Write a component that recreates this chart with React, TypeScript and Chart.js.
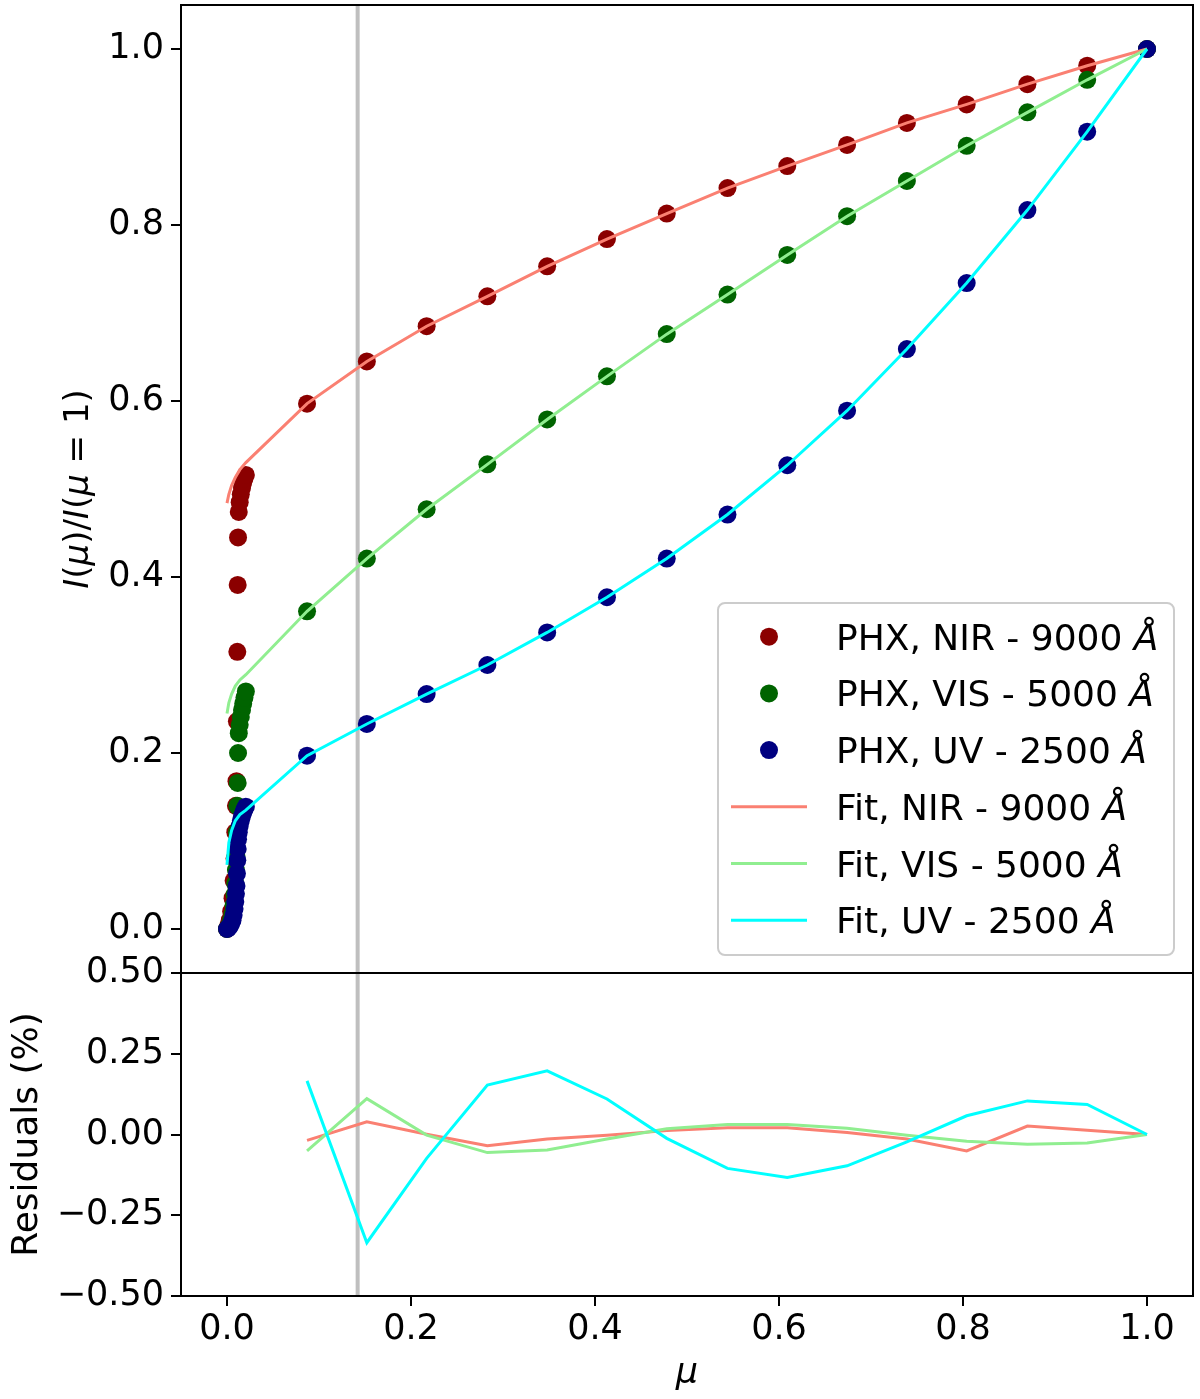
import { useEffect, useRef } from "react"
import { Chart, registerables } from "chart.js"

Chart.register(...registerables)

// limb points of the PHOENIX models (dense grid near mu = 0)
const limbMu = [
  0.0, 0.0015, 0.003, 0.0045, 0.006, 0.0072, 0.0082, 0.009, 0.0097, 0.0103, 0.0108, 0.0112, 0.0116, 0.012, 0.0128,
  0.0138, 0.015, 0.0163, 0.0176, 0.019, 0.0205,
]
const nirLimb = [
  0.0, 0.004, 0.01, 0.02, 0.035, 0.055, 0.08, 0.11, 0.14, 0.168, 0.236, 0.315, 0.391, 0.445, 0.474, 0.485, 0.494,
  0.501, 0.507, 0.512, 0.516,
]
const visLimb = [
  0.0, 0.002, 0.005, 0.01, 0.017, 0.027, 0.039, 0.052, 0.067, 0.083, 0.11, 0.14, 0.166, 0.2, 0.2225, 0.232, 0.241,
  0.249, 0.256, 0.263, 0.27,
]
const uvLimb = [
  0.0, 0.001, 0.003, 0.006, 0.01, 0.016, 0.023, 0.031, 0.04, 0.049, 0.063, 0.078, 0.091, 0.102, 0.11, 0.117, 0.123,
  0.128, 0.132, 0.136, 0.139,
]

// regular mu grid
const muGrid = [0.087, 0.152, 0.217, 0.283, 0.348, 0.413, 0.478, 0.544, 0.609, 0.674, 0.739, 0.804, 0.87, 0.935, 1.0]
const nirGrid = [0.597, 0.645, 0.685, 0.719, 0.753, 0.784, 0.813, 0.842, 0.867, 0.891, 0.916, 0.937, 0.96, 0.981, 1.0]
const visGrid = [0.361, 0.421, 0.477, 0.528, 0.579, 0.628, 0.676, 0.721, 0.766, 0.81, 0.85, 0.89, 0.928, 0.965, 1.0]
const uvGrid = [0.197, 0.233, 0.267, 0.3, 0.337, 0.377, 0.421, 0.471, 0.527, 0.589, 0.659, 0.734, 0.817, 0.906, 1.0]

// fit curves close to the limb
const fitLimbMu = [0.0, 0.002, 0.005, 0.009, 0.014, 0.0205]
const nirFitLimb = [0.484, 0.494, 0.504, 0.513, 0.522, 0.53]
const visFitLimb = [0.245, 0.257, 0.267, 0.276, 0.283, 0.289]
const uvFitLimb = [0.073, 0.098, 0.112, 0.123, 0.13, 0.135]

// residuals (%) on the regular grid
const nirRes = [-0.018, 0.039, 0.001, -0.035, -0.014, -0.002, 0.012, 0.021, 0.021, 0.006, -0.014, -0.051, 0.026, 0.013, 0.0]
const visRes = [-0.051, 0.111, -0.002, -0.056, -0.048, -0.014, 0.018, 0.031, 0.031, 0.019, -0.002, -0.021, -0.03, -0.026, 0.0]
const uvRes = [0.166, -0.335, -0.074, 0.153, 0.197, 0.11, -0.012, -0.105, -0.133, -0.097, -0.023, 0.058, 0.104, 0.093, 0.0]

const markerMu = 0.142

const xTicks = [0.0, 0.2, 0.4, 0.6, 0.8, 1.0]
const yTicks = [0.0, 0.2, 0.4, 0.6, 0.8, 1.0]
const resTicks = [-0.5, -0.25, 0.0, 0.25, 0.5]

const legendLabels = ["PHX, NIR - 9000 ", "PHX, VIS - 5000 ", "PHX, UV - 2500 ", "Fit, NIR - 9000 ", "Fit, VIS - 5000 ", "Fit, UV - 2500 "]

const FONT = '"DejaVu Sans", sans-serif'
const DOT = ["#8b0000", "#006400", "#000080"]
const LINE = ["#fa8072", "#90ee90", "#00ffff"]

const pts = (xs: number[], ys: number[]) => xs.map((x, i) => ({ x, y: ys[i] }))
const minus = (s: string) => s.replace("-", "\u2212")

function drawParts(ctx: CanvasRenderingContext2D, parts: [string, boolean][], x: number, y: number, size: number) {
  let cx = x
  for (const [t, it] of parts) {
    ctx.font = `${it ? "italic " : ""}${size}px ${FONT}`
    ctx.fillText(t, cx, y)
    cx += ctx.measureText(t).width
  }
}

function partsWidth(ctx: CanvasRenderingContext2D, parts: [string, boolean][], size: number) {
  let w = 0
  for (const [t, it] of parts) {
    ctx.font = `${it ? "italic " : ""}${size}px ${FONT}`
    w += ctx.measureText(t).width
  }
  return w
}

const framePlugin = {
  id: "frame",
  afterDatasetsDraw(chart: any) {
    const { ctx, chartArea } = chart
    ctx.save()
    ctx.strokeStyle = "#000"
    ctx.lineWidth = 2
    for (const id of ["y", "yRes"]) {
      const s = chart.scales[id]
      ctx.strokeRect(chartArea.left, s.top, chartArea.right - chartArea.left, s.bottom - s.top)
    }
    ctx.restore()
  },
  afterDraw(chart: any) {
    const { ctx, chartArea } = chart
    const top = chart.scales.y
    const res = chart.scales.yRes
    ctx.save()
    ctx.fillStyle = "#000"
    ctx.textBaseline = "alphabetic"

    // y label of the top panel
    const yLab: [string, boolean][] = [
      ["I", true], ["(", false], ["\u03bc", true], [")/", false], ["I", true], ["(", false], ["\u03bc", true], [" = 1)", false],
    ]
    ctx.save()
    ctx.translate(88, (top.top + top.bottom) / 2)
    ctx.rotate(-Math.PI / 2)
    drawParts(ctx, yLab, -partsWidth(ctx, yLab, 34) / 2, 0, 34)
    ctx.restore()

    // y label of the residual panel
    const rLab: [string, boolean][] = [["Residuals (%)", false]]
    ctx.save()
    ctx.translate(37, (res.top + res.bottom) / 2)
    ctx.rotate(-Math.PI / 2)
    drawParts(ctx, rLab, -partsWidth(ctx, rLab, 36) / 2, 0, 36)
    ctx.restore()

    // x label
    const xLab: [string, boolean][] = [["\u03bc", true]]
    drawParts(ctx, xLab, (chartArea.left + chartArea.right) / 2 - partsWidth(ctx, xLab, 35) / 2, 1383, 35)

    // legend
    const bx = 718, by = 603, bw = 456, bh = 352
    ctx.beginPath()
    ctx.roundRect(bx, by, bw, bh, 7)
    ctx.fillStyle = "rgba(255,255,255,0.8)"
    ctx.fill()
    ctx.strokeStyle = "#cccccc"
    ctx.lineWidth = 2
    ctx.stroke()
    legendLabels.forEach((label, k) => {
      const ry = 636.7 + k * 56.7
      if (k < 3) {
        ctx.beginPath()
        ctx.arc(769, ry, 9, 0, Math.PI * 2)
        ctx.fillStyle = DOT[k]
        ctx.fill()
      } else {
        ctx.beginPath()
        ctx.moveTo(731, ry)
        ctx.lineTo(807, ry)
        ctx.strokeStyle = LINE[k - 3]
        ctx.lineWidth = 3
        ctx.stroke()
      }
      ctx.fillStyle = "#000"
      drawParts(ctx, [[label, false], ["\u00c5", true]], 836, ry + 13, 36)
    })
    ctx.restore()
  },
}

const tickFont = { family: FONT, size: 35 }

const noPad = (s: any) => {
  s.paddingTop = 0
  s.paddingBottom = 0
  s.paddingLeft = 0
  s.paddingRight = 0
}

export default function App() {
  const chartRef = useRef<HTMLCanvasElement>(null)
  const chartInstance = useRef<Chart | null>(null)

  useEffect(() => {
    if (!chartRef.current) return
    const ctx = chartRef.current.getContext("2d")
    if (!ctx) return
    if (chartInstance.current) chartInstance.current.destroy()

    const dots = (data: any, color: string, order: number) => ({
      data,
      showLine: false,
      pointRadius: 9,
      pointHoverRadius: 9,
      pointBorderWidth: 0,
      pointBackgroundColor: color,
      backgroundColor: color,
      yAxisID: "y",
      order,
    })
    const line = (data: any, color: string, axis: string, order: number, width = 3) => ({
      data,
      showLine: true,
      pointRadius: 0,
      pointHoverRadius: 0,
      borderColor: color,
      borderWidth: width,
      yAxisID: axis,
      order,
    })

    chartInstance.current = new Chart(ctx, {
      type: "scatter",
      data: {
        datasets: [
          line([{ x: markerMu, y: -0.05 }, { x: markerMu, y: 1.05 }], "#bfbfbf", "y", 20, 4),
          line([{ x: markerMu, y: -0.5 }, { x: markerMu, y: 0.5 }], "#bfbfbf", "yRes", 19, 4),
          dots(pts(limbMu.concat(muGrid), nirLimb.concat(nirGrid)), DOT[0], 18),
          dots(pts(limbMu.concat(muGrid), visLimb.concat(visGrid)), DOT[1], 17),
          dots(pts(limbMu.concat(muGrid), uvLimb.concat(uvGrid)), DOT[2], 16),
          line(pts(fitLimbMu.concat(muGrid), nirFitLimb.concat(nirGrid)), LINE[0], "y", 15),
          line(pts(fitLimbMu.concat(muGrid), visFitLimb.concat(visGrid)), LINE[1], "y", 14),
          line(pts(fitLimbMu.concat(muGrid), uvFitLimb.concat(uvGrid)), LINE[2], "y", 13),
          line(pts(muGrid, nirRes), LINE[0], "yRes", 12),
          line(pts(muGrid, visRes), LINE[1], "yRes", 11),
          line(pts(muGrid, uvRes), LINE[2], "yRes", 10),
        ] as any,
      },
      options: {
        responsive: true,
        maintainAspectRatio: false,
        animation: false,
        events: [],
        layout: { autoPadding: false, padding: { left: 0, top: 5, right: 7, bottom: 0 } },
        plugins: { legend: { display: false }, tooltip: { enabled: false } },
        scales: {
          x: {
            type: "linear",
            min: -0.05,
            max: 1.05,
            afterFit: (s: any) => {
              s.height = 103
              noPad(s)
            },
            afterBuildTicks: (s: any) => {
              s.ticks = xTicks.map((v) => ({ value: v }))
            },
            ticks: {
              callback: (v: any) => Number(v).toFixed(1),
              font: tickFont,
              color: "#000",
              padding: 3,
              maxRotation: 0,
              autoSkip: false,
            },
            grid: { drawOnChartArea: false, drawTicks: true, tickLength: 10, color: "#000", lineWidth: 2 },
            border: { display: false },
          },
          y: {
            type: "linear",
            position: "left",
            stack: "panels",
            stackWeight: 968,
            weight: 1,
            min: -0.05,
            max: 1.05,
            afterFit: (s: any) => {
              s.width = 181
              noPad(s)
            },
            afterBuildTicks: (s: any) => {
              s.ticks = yTicks.map((v) => ({ value: v }))
            },
            ticks: {
              callback: (v: any) => Number(v).toFixed(1),
              font: tickFont,
              color: "#000",
              padding: 7,
              autoSkip: false,
            },
            grid: { drawOnChartArea: false, drawTicks: true, tickLength: 10, color: "#000", lineWidth: 2 },
            border: { display: false },
          },
          yRes: {
            type: "linear",
            position: "left",
            stack: "panels",
            stackWeight: 323,
            weight: 0,
            min: -0.5,
            max: 0.5,
            afterFit: (s: any) => {
              s.width = 181
              noPad(s)
            },
            afterBuildTicks: (s: any) => {
              s.ticks = resTicks.map((v) => ({ value: v }))
            },
            ticks: {
              callback: (v: any) => minus(Number(v).toFixed(2)),
              font: tickFont,
              color: "#000",
              padding: 7,
              autoSkip: false,
            },
            grid: { drawOnChartArea: false, drawTicks: true, tickLength: 10, color: "#000", lineWidth: 2 },
            border: { display: false },
          },
        },
      } as any,
      plugins: [framePlugin],
    })

    return () => {
      if (chartInstance.current) {
        chartInstance.current.destroy()
        chartInstance.current = null
      }
    }
  }, [])

  return (
    <div style={{ position: "absolute", left: 0, top: 0, width: 1200, height: 1399, background: "#fff" }}>
      <canvas ref={chartRef}></canvas>
    </div>
  )
}
